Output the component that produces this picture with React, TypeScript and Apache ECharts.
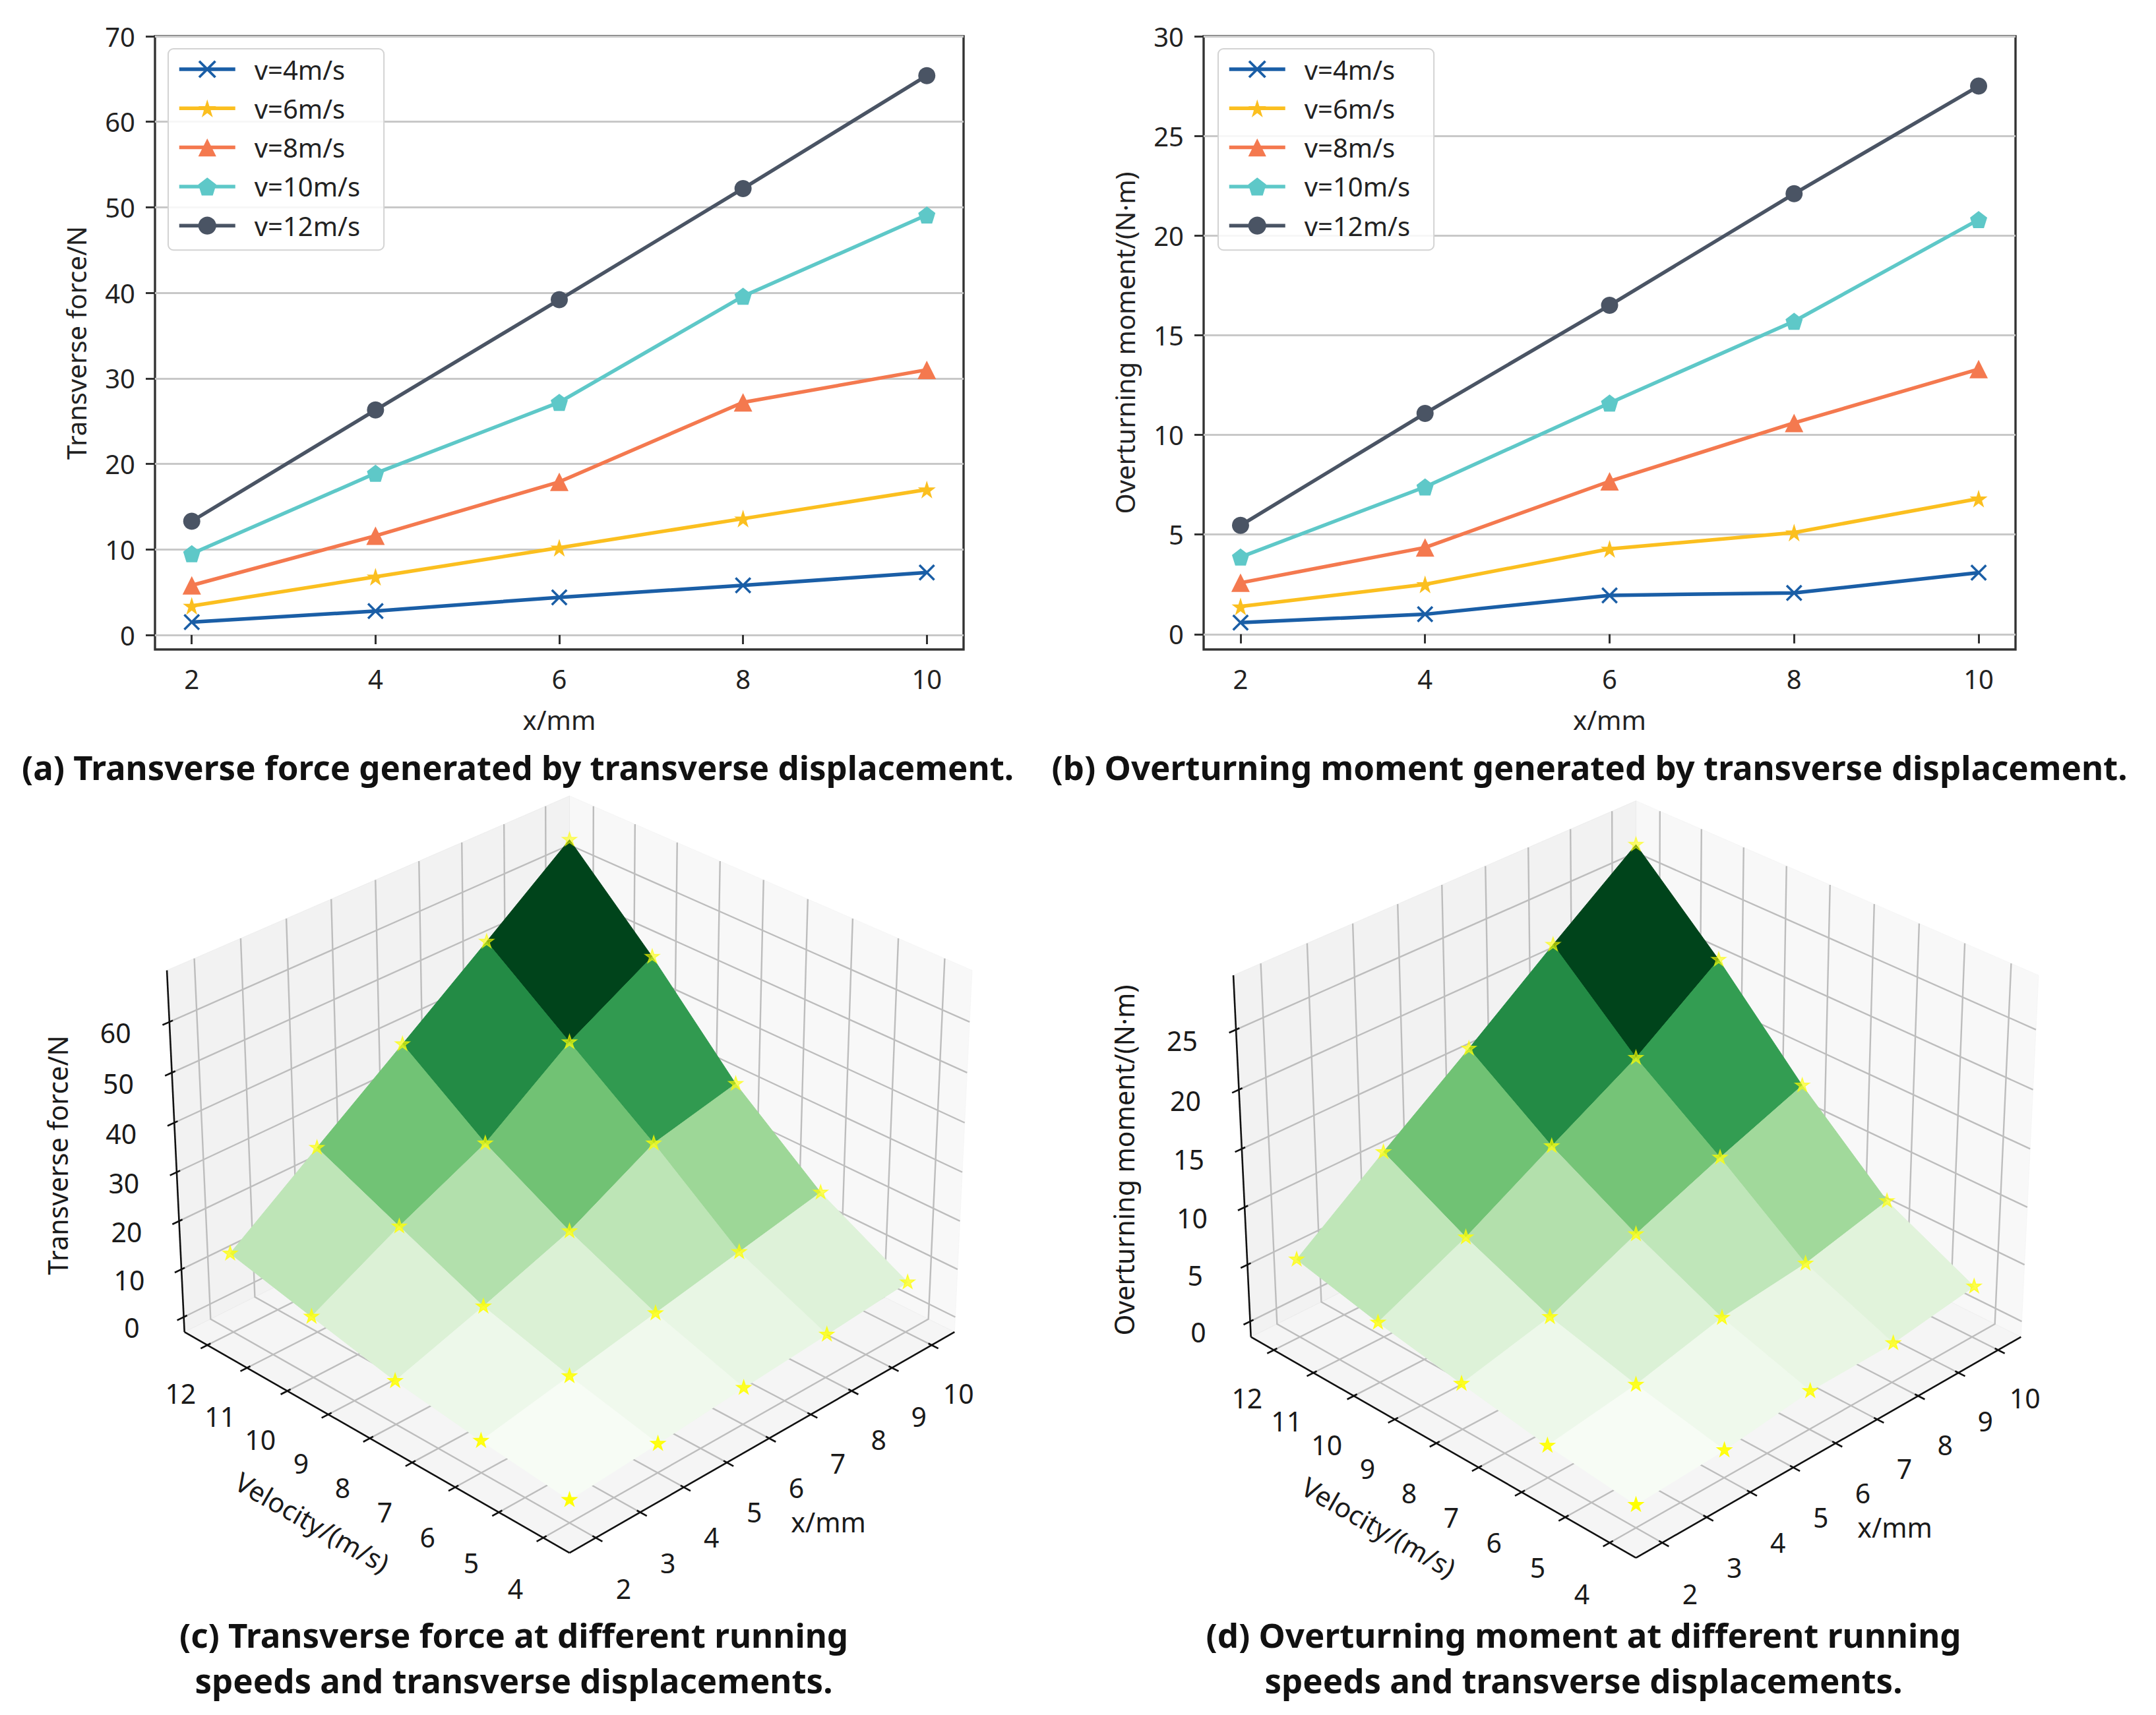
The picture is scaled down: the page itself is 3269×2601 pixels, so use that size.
import React, { useEffect, useRef } from 'react';
import * as echarts from 'echarts';

const FONT = '"Noto Sans", "DejaVu Sans", sans-serif';

// ---------- data ----------
const xValues = [2, 4, 6, 8, 10];
const velocities = [4, 6, 8, 10, 12];
const seriesNames = ['v=4m/s', 'v=6m/s', 'v=8m/s', 'v=10m/s', 'v=12m/s'];

// Transverse force (N) for each velocity, over x = 2..10 mm
const forceV4 = [1.5, 2.8, 4.4, 5.8, 7.3];
const forceV6 = [3.4, 6.8, 10.2, 13.6, 17.0];
const forceV8 = [5.8, 11.6, 17.9, 27.2, 31.0];
const forceV10 = [9.5, 18.9, 27.2, 39.6, 49.1];
const forceV12 = [13.3, 26.3, 39.2, 52.2, 65.4];

// Overturning moment (N·m) for each velocity, over x = 2..10 mm
const momentV4 = [0.58, 1.0, 1.95, 2.07, 3.09];
const momentV6 = [1.39, 2.5, 4.28, 5.1, 6.8];
const momentV8 = [2.58, 4.35, 7.67, 10.6, 13.3];
const momentV10 = [3.87, 7.39, 11.6, 15.7, 20.8];
const momentV12 = [5.46, 11.08, 16.5, 22.1, 27.5];

const forceRows = [forceV4, forceV6, forceV8, forceV10, forceV12];
const momentRows = [momentV4, momentV6, momentV8, momentV10, momentV12];

// tick labels
const xTicks2d = [2, 4, 6, 8, 10];
const forceTicks2d = [0, 10, 20, 30, 40, 50, 60, 70];
const momentTicks2d = [0, 5, 10, 15, 20, 25, 30];
const xTicks3d = [2, 3, 4, 5, 6, 7, 8, 9, 10];
const vTicks3d = [4, 5, 6, 7, 8, 9, 10, 11, 12];
const forceTicks3d = [0, 10, 20, 30, 40, 50, 60];
const momentTicks3d = [0, 5, 10, 15, 20, 25];

const COLORS = ['#1a5ea6', '#fbbf1f', '#f4794f', '#5ec8c8', '#4a5464'];
const GREENS = ['#f7fcf5', '#e5f5e0', '#c7e9c0', '#a1d99b', '#74c476', '#41ab5d', '#238b45', '#006d2c', '#00441b'];

const SYM_X = 'path://M10,0 L50,40 L90,0 L100,10 L60,50 L100,90 L90,100 L50,60 L10,100 L0,90 L40,50 L0,10 Z';
const SYM_STAR = 'path://M50,0 L61.2,34.55 L97.55,34.55 L68.15,55.9 L79.4,90.45 L50,69.1 L20.6,90.45 L31.85,55.9 L2.45,34.55 L38.8,34.55 Z';
const SYM_PENT = 'path://M50,0 L97.55,34.55 L79.4,90.45 L20.6,90.45 L2.45,34.55 Z';
const SYMBOLS = [SYM_X, SYM_STAR, 'triangle', SYM_PENT, 'circle'];
const SYMBOL_SIZES = [25, 27, 28, 26, 26];

// ---------- helpers ----------
function padLimits(vals: number[]): [number, number] {
  const lo = Math.min(...vals);
  const hi = Math.max(...vals);
  const m = (hi - lo) * 0.05;
  return [lo - m, hi + m];
}

const dot = (a: number[], b: number[]) => a[0] * b[0] + a[1] * b[1] + a[2] * b[2];

function makeProjection(zRows: number[][]) {
  const lims = [padLimits(xValues), padLimits(velocities), padLimits(zRows.flat())];
  const box = [4 / 3.5, 4 / 3.5, 3 / 3.5];
  const el = (30 * Math.PI) / 180;
  const az = (-135 * Math.PI) / 180;
  const n = [Math.cos(el) * Math.cos(az), Math.cos(el) * Math.sin(az), Math.sin(el)];
  const ul = Math.hypot(n[0], n[1]);
  const u = [-n[1] / ul, n[0] / ul, 0];
  const v = [n[1] * u[2] - n[2] * u[1], n[2] * u[0] - n[0] * u[2], n[0] * u[1] - n[1] * u[0]];
  const project = (x: number, y: number, z: number) => {
    const p = [x, y, z];
    const q = p.map((val, k) => ((val - lims[k][0]) / (lims[k][1] - lims[k][0])) * box[k] - box[k] / 2);
    const dn = dot(n, q);
    const w = 10 - dn;
    return [dot(u, q) / w, dot(v, q) / w, dn];
  };
  const ranges = lims.map((l) => l[1] - l[0]);
  const panes = lims.map((l, k) => [l[0] - ranges[k] / 48, l[1] + ranges[k] / 48]);
  const deltas = ranges.map((r) => r / 12);
  return { project, lims, panes, deltas };
}

const K = 7090; // pixels per projected unit
const GRID_COLOR = '#bdbdbd';
const TICK_FS = 41;

function axesRender(proj: ReturnType<typeof makeProjection>, zTicks: number[], xName: string, vName: string, zName: string) {
  return (_params: any, api: any) => {
    const P = (x: number, y: number, z: number) => {
      const s = proj.project(x, y, z);
      return api.coord([s[0], s[1]]);
    };
    const [[xl, xh], [yl, yh], [zl, zh]] = proj.panes;
    const [dx, dy, dz] = proj.deltas;
    const children: any[] = [];
    const poly = (pts: number[][], fill: string) => ({
      type: 'polygon', shape: { points: pts }, style: { fill, stroke: fill, lineWidth: 1 },
    });
    children.push(poly([P(xh, yl, zl), P(xh, yh, zl), P(xh, yh, zh), P(xh, yl, zh)], 'rgba(242,242,242,0.5)'));
    children.push(poly([P(xl, yh, zl), P(xh, yh, zl), P(xh, yh, zh), P(xl, yh, zh)], 'rgba(230,230,230,0.5)'));
    children.push(poly([P(xl, yl, zl), P(xh, yl, zl), P(xh, yh, zl), P(xl, yh, zl)], 'rgba(236,236,236,0.5)'));
    const gl = (pts: number[][]) => ({
      type: 'polyline', shape: { points: pts }, style: { stroke: GRID_COLOR, lineWidth: 2.4, fill: 'none' },
    });
    xTicks3d.forEach((t) => children.push(gl([P(t, yl, zl), P(t, yh, zl), P(t, yh, zh)])));
    vTicks3d.forEach((t) => children.push(gl([P(xh, t, zh), P(xh, t, zl), P(xl, t, zl)])));
    zTicks.forEach((t) => children.push(gl([P(xl, yh, t), P(xh, yh, t), P(xh, yl, t)])));
    const ln = (a: number[], b: number[]) => ({
      type: 'line', shape: { x1: a[0], y1: a[1], x2: b[0], y2: b[1] }, style: { stroke: '#111', lineWidth: 2.6 },
    });
    children.push(ln(P(xl, yl, zl), P(xh, yl, zl)));
    children.push(ln(P(xl, yl, zl), P(xl, yh, zl)));
    children.push(ln(P(xl, yh, zl), P(xl, yh, zh)));
    const txt = (pt: number[], text: string, dxp = 0, dyp = 16, rotation = 0) => ({
      type: 'text', x: pt[0] + dxp, y: pt[1] + dyp, rotation,
      style: { text, fontSize: TICK_FS, fontFamily: FONT, fill: '#1a1a1a', align: 'center', verticalAlign: 'middle' },
    });
    const f = 0.84;
    xTicks3d.forEach((t) => {
      children.push(ln(P(t, yl + 0.1 * dy, zl), P(t, yl - 0.2 * dy, zl)));
      children.push(txt(P(t, yl - f * dy, zl - f * dz), String(t)));
    });
    vTicks3d.forEach((t) => {
      children.push(ln(P(xl + 0.1 * dx, t, zl), P(xl - 0.2 * dx, t, zl)));
      children.push(txt(P(xl - f * dx, t, zl - f * dz), String(t)));
    });
    zTicks.forEach((t) => {
      children.push(ln(P(xl + 0.1 * dx, yh, t), P(xl - 0.2 * dx, yh, t)));
      children.push(txt(P(xl - f * dx, yh + f * dy, t), String(t)));
    });
    // axis titles
    const g = 1.6;
    const xm = (xl + xh) / 2, ym = (yl + yh) / 2, zm = (zl + zh) / 2;
    children.push(txt(P(xm, yl - g * dy, zl - g * dz), xName, 11, 15));
    const a = P(xl, yh, zl), b = P(xl, yl, zl);
    const ang = Math.atan2(-(b[1] - a[1]), b[0] - a[0]);
    children.push(txt(P(xl - g * dx, ym, zl - g * dz), vName, -8, 15, ang));
    children.push(txt(P(xl - g * dx, yh + g * dy, zm), zName, -27, 0, Math.PI / 2));
    return { type: 'group', children };
  };
}

function surfaceFaces(proj: ReturnType<typeof makeProjection>, rows: number[][]) {
  const faces: number[][] = [];
  for (let j = 0; j < velocities.length - 1; j++) {
    for (let i = 0; i < xValues.length - 1; i++) {
      const avg = (rows[j][i] + rows[j][i + 1] + rows[j + 1][i] + rows[j + 1][i + 1]) / 4;
      const depth = proj.project(
        (xValues[i] + xValues[i + 1]) / 2,
        (velocities[j] + velocities[j + 1]) / 2,
        avg,
      )[2];
      faces.push([i, j, avg, depth]);
    }
  }
  faces.sort((p, q) => p[3] - q[3]);
  return faces;
}

function surfaceRender(proj: ReturnType<typeof makeProjection>, rows: number[][]) {
  return (_params: any, api: any) => {
    const i = api.value(0);
    const j = api.value(1);
    const corners = [[i, j], [i + 1, j], [i + 1, j + 1], [i, j + 1]];
    const pts = corners.map(([a, b]) => {
      const s = proj.project(xValues[a], velocities[b], rows[b][a]);
      return api.coord([s[0], s[1]]);
    });
    const c = api.visual('color');
    return { type: 'polygon', shape: { points: pts }, style: { fill: c, stroke: c, lineWidth: 1 } };
  };
}

function starPoints(cx: number, cy: number, r: number) {
  const pts: number[][] = [];
  for (let k = 0; k < 10; k++) {
    const rad = k % 2 === 0 ? r : r * 0.382;
    const ang = -Math.PI / 2 + (k * Math.PI) / 5;
    pts.push([cx + rad * Math.cos(ang), cy + rad * Math.sin(ang)]);
  }
  return pts;
}

function starData(rows: number[][]) {
  const pts: number[][] = [];
  velocities.forEach((v, j) => xValues.forEach((x, i) => pts.push([x, v, rows[j][i]])));
  return pts;
}

function starRender(proj: ReturnType<typeof makeProjection>, pts: number[][]) {
  const depths = pts.map((p) => -proj.project(p[0], p[1], p[2])[2]);
  const dmin = Math.min(...depths);
  const dmax = Math.max(...depths);
  return (params: any, api: any) => {
    const s = proj.project(api.value(0), api.value(1), api.value(2));
    const c = api.coord([s[0], s[1]]);
    const dn = (depths[params.dataIndex] - dmin) / (dmax - dmin);
    const alpha = 1 - 0.45 * dn;
    return {
      type: 'polygon',
      shape: { points: starPoints(c[0], c[1], 11.5) },
      style: { fill: '#ffff00', stroke: '#ffff00', lineWidth: 1.4, opacity: alpha },
    };
  };
}

// ---------- option ----------
function buildOption() {
  const projC = makeProjection(forceRows);
  const projD = makeProjection(momentRows);
  const facesC = surfaceFaces(projC, forceRows);
  const facesD = surfaceFaces(projD, momentRows);
  const starsC = starData(forceRows);
  const starsD = starData(momentRows);

  const centers = [
    [863.5, 1752],
    [2480.5, 1759.5],
  ];
  const hiddenGrid = (c: number[]) => ({
    left: c[0] - 0.095 * K, top: c[1] - 0.09 * K, width: 0.185 * K, height: 0.185 * K, show: false,
  });

  const xMin = padLimits(xValues);
  const forceYMin = padLimits(forceRows.flat())[0];
  const momentYMin = padLimits(momentRows.flat())[0];

  const lineGrid = (left: number, width: number) => ({
    left, top: 55, width, height: 930, show: true, borderColor: '#333', borderWidth: 3.4, backgroundColor: 'transparent',
  });

  const xAxis2d = (gridIndex: number) => ({
    type: 'value', gridIndex, min: xMin[0], max: xMin[1],
    name: 'x/mm', nameLocation: 'middle', nameGap: 86,
    nameTextStyle: { fontSize: 40, fontFamily: FONT, color: '#222' },
    axisLine: { show: false },
    axisTick: { show: true, length: 14, customValues: xTicks2d, lineStyle: { color: '#333', width: 3 } },
    axisLabel: { customValues: xTicks2d, fontSize: 40, fontFamily: FONT, color: '#222', margin: 24 },
    splitLine: { show: false },
  });
  const yAxis2d = (gridIndex: number, min: number, ticks: number[], name: string) => ({
    type: 'value', gridIndex, min, max: ticks[ticks.length - 1],
    name, nameLocation: 'middle', nameGap: 100, nameRotate: 90,
    nameTextStyle: { fontSize: 40, fontFamily: FONT, color: '#222' },
    axisLine: { show: false },
    axisTick: { show: true, length: 14, customValues: ticks, lineStyle: { color: '#333', width: 3 } },
    axisLabel: { customValues: ticks, fontSize: 40, fontFamily: FONT, color: '#222', margin: 30 },
    splitLine: { show: true, lineStyle: { color: '#c8c8c8', width: 3.2 } },
  });
  const hiddenX = (gridIndex: number) => ({ type: 'value', gridIndex, min: -0.095, max: 0.09, show: false });
  const hiddenY = (gridIndex: number) => ({ type: 'value', gridIndex, min: -0.095, max: 0.09, show: false });

  const lineSeries = (rows: number[][], axisIndex: number) =>
    rows.map((row, k) => ({
      type: 'line',
      name: seriesNames[k],
      xAxisIndex: axisIndex,
      yAxisIndex: axisIndex,
      data: xValues.map((x, i) => [x, row[i]]),
      symbol: SYMBOLS[k],
      symbolSize: SYMBOL_SIZES[k],
      showSymbol: true,
      lineStyle: { color: COLORS[k], width: 5.5 },
      itemStyle: { color: COLORS[k] },
      z: 3 + k,
    }));

  const legend = (left: number) => ({
    orient: 'vertical', left, top: 74,
    itemWidth: 85, itemHeight: 34, itemGap: 19.3,
    padding: [11, 36, 17, 14],
    backgroundColor: 'rgba(255,255,255,0.85)', borderColor: '#d3d3d3', borderWidth: 2, borderRadius: 8,
    lineStyle: { width: 5.5 },
    textStyle: { fontSize: 40, fontFamily: FONT, color: '#222', lineHeight: 40, padding: [0, 0, 0, 24] },
    data: seriesNames, selectedMode: false,
  });

  const caption = (text: string, x: number, y: number) => ({
    type: 'text', x, y,
    style: { text, fontSize: 51, fontWeight: 'bold', fontFamily: FONT, fill: '#111', align: 'center', verticalAlign: 'middle' },
  });

  return {
    animation: false,
    backgroundColor: '#ffffff',
    grid: [lineGrid(235, 1226), lineGrid(1825, 1231), hiddenGrid(centers[0]), hiddenGrid(centers[1])],
    xAxis: [xAxis2d(0), xAxis2d(1), hiddenX(2), hiddenX(3)],
    yAxis: [
      yAxis2d(0, forceYMin, forceTicks2d, 'Transverse force/N'),
      yAxis2d(1, momentYMin, momentTicks2d, 'Overturning moment/(N·m)'),
      hiddenY(2),
      hiddenY(3),
    ],
    legend: [legend(255), legend(1847)],
    visualMap: [
      {
        type: 'continuous', show: false, seriesIndex: 11, dimension: 2,
        min: Math.min(...facesC.map((f) => f[2])), max: Math.max(...facesC.map((f) => f[2])),
        inRange: { color: GREENS },
      },
      {
        type: 'continuous', show: false, seriesIndex: 14, dimension: 2,
        min: Math.min(...facesD.map((f) => f[2])), max: Math.max(...facesD.map((f) => f[2])),
        inRange: { color: GREENS },
      },
    ],
    series: [
      ...lineSeries(forceRows, 0),
      ...lineSeries(momentRows, 1),
      {
        type: 'custom', name: 'axes-c', xAxisIndex: 2, yAxisIndex: 2, silent: true, clip: false,
        data: [[0, 0]], renderItem: axesRender(projC, forceTicks3d, 'x/mm', 'Velocity/(m/s)', 'Transverse force/N'),
      },
      {
        type: 'custom', name: 'surface-c', xAxisIndex: 2, yAxisIndex: 2, silent: true, clip: false,
        dimensions: ['i', 'j', 'avg', 'depth'], data: facesC, renderItem: surfaceRender(projC, forceRows),
      },
      {
        type: 'custom', name: 'points-c', xAxisIndex: 2, yAxisIndex: 2, silent: true, clip: false,
        data: starsC, renderItem: starRender(projC, starsC),
      },
      {
        type: 'custom', name: 'axes-d', xAxisIndex: 3, yAxisIndex: 3, silent: true, clip: false,
        data: [[0, 0]], renderItem: axesRender(projD, momentTicks3d, 'x/mm', 'Velocity/(m/s)', 'Overturning moment/(N·m)'),
      },
      {
        type: 'custom', name: 'surface-d', xAxisIndex: 3, yAxisIndex: 3, silent: true, clip: false,
        dimensions: ['i', 'j', 'avg', 'depth'], data: facesD, renderItem: surfaceRender(projD, momentRows),
      },
      {
        type: 'custom', name: 'points-d', xAxisIndex: 3, yAxisIndex: 3, silent: true, clip: false,
        data: starsD, renderItem: starRender(projD, starsD),
      },
    ],
    graphic: [
      caption('(a) Transverse force generated by transverse displacement.', 785, 1163),
      caption('(b) Overturning moment generated by transverse displacement.', 2410, 1163),
      caption('(c) Transverse force at different running', 779, 2479),
      caption('speeds and transverse displacements.', 779, 2548),
      caption('(d) Overturning moment at different running', 2401, 2479),
      caption('speeds and transverse displacements.', 2401, 2548),
    ],
  };
}

export default function App() {
  const ref = useRef<HTMLDivElement>(null);
  useEffect(() => {
    if (!ref.current) return;
    const chart = echarts.init(ref.current, null, { renderer: 'svg' });
    chart.setOption(buildOption() as any);
    return () => chart.dispose();
  }, []);
  return (
    <div
      ref={ref}
      style={{ position: 'fixed', left: 0, top: 0, width: 3269, height: 2601, background: '#ffffff' }}
    />
  );
}
